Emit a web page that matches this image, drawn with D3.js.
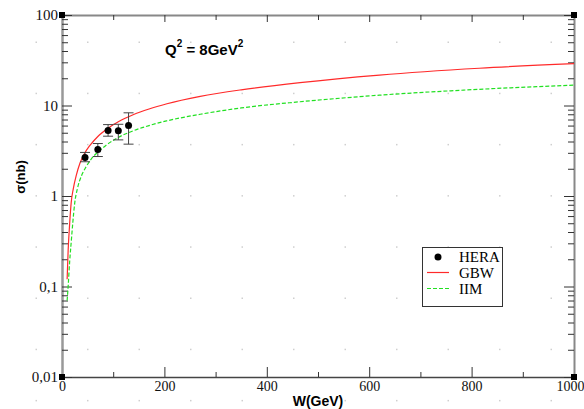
<!DOCTYPE html>
<html>
<head>
<meta charset="utf-8">
<script src="https://cdn.jsdelivr.net/npm/d3@7"></script>
<style>
  html, body { margin: 0; padding: 0; background: #fff; }
  svg { display: block; }
</style>
</head>
<body>
<div id="chart"></div>
<script>
// ---- data ----
const heraW     = [45, 70, 90, 110, 130];
const heraSigma = [2.67, 3.27, 5.3, 5.25, 6.0];
const heraHi    = [3.03, 3.8, 6.15, 6.2, 8.3];
const heraLo    = [2.39, 2.73, 4.58, 4.17, 3.74];

const gbwW     = [10, 12, 15, 18, 22, 28, 35, 44, 55, 70, 90, 110, 140, 170, 205, 270, 350, 465, 620, 815, 1000];
const gbwSigma = [0.12, 0.25, 0.5, 0.85, 1.2, 1.7, 2.3, 2.95, 3.65, 4.55, 5.6, 6.6, 7.95, 9.15, 10.45, 12.6, 14.9, 17.9, 21.7, 25.8, 29.0];

const iimW     = [10, 12, 15, 18, 21, 25, 30, 38, 47, 57, 70, 85, 107, 139, 170, 204, 270, 350, 465, 620, 815, 1000];
const iimSigma = [0.07, 0.1, 0.19, 0.31, 0.5, 0.85, 1.2, 1.67, 2.1, 2.56, 3.05, 3.6, 4.35, 5.25, 6.0, 6.75, 8.0, 9.4, 11.0, 13.0, 15.1, 16.8];

const xTicks = [0, 200, 400, 600, 800, 1000];
const xMinor = [100, 300, 500, 700, 900];
const yTicks = [0.01, 0.1, 1, 10, 100];
const yTickLabels = ["0,01", "0,1", "1", "10", "100"];
const legendLabels = ["HERA", "GBW", "IIM"];

// ---- layout ----
const W = 584, H = 409;
const x = d3.scaleLinear().domain([0, 1000]).range([62, 574]);
const y = d3.scaleLog().domain([0.01, 100]).range([377, 15]);

const svg = d3.select("#chart").append("svg")
  .attr("width", W).attr("height", H)
  .attr("viewBox", `0 0 ${W} ${H}`);

// background dot grid
const gdots = svg.append("g");
for (let i = 0; i <= 10; i++) {
  for (let j = 0; j <= 7; j++) {
    gdots.append("rect")
      .attr("x", 35.5 + 51.5 * i).attr("y", 41.5 + 51.2 * j)
      .attr("width", 1.5).attr("height", 1.5)
      .attr("fill", "#cfcfcf");
  }
}

// minor y values
const yMinor = [];
[0.01, 0.1, 1, 10].forEach(d => { for (let k = 2; k <= 9; k++) yMinor.push(d * k); });

const serif = "'Liberation Serif', 'Times New Roman', serif";
const sans = "'Liberation Sans', Arial, sans-serif";

function styleAxis(g, domainColor, domainWidth) {
  g.select(".domain").attr("stroke", domainColor).attr("stroke-width", domainWidth);
  g.selectAll(".tick line").attr("stroke", "#333").attr("stroke-width", 1);
  g.selectAll(".tick text").attr("font-family", serif).attr("font-size", 14).attr("fill", "#111");
}

// bottom axis
const gB = svg.append("g").attr("transform", `translate(0,${y(0.01)})`)
  .call(d3.axisBottom(x).tickValues(xTicks).tickSizeInner(-10).tickSizeOuter(0).tickPadding(4)
    .tickFormat(d3.format("d")));
styleAxis(gB, "#444", 1.5);
// keep the last label inside the picture
gB.selectAll(".tick text").filter(d => d === 1000).attr("text-anchor", "end").attr("x", 10);
const gBm = svg.append("g").attr("transform", `translate(0,${y(0.01)})`)
  .call(d3.axisBottom(x).tickValues(xMinor).tickSizeInner(-5).tickSizeOuter(0).tickFormat(""));
gBm.select(".domain").remove();
gBm.selectAll(".tick line").attr("stroke", "#333");

// top axis
const gT = svg.append("g").attr("transform", `translate(0,${y(100)})`)
  .call(d3.axisTop(x).tickValues(xTicks).tickSizeInner(-7).tickSizeOuter(0).tickFormat(""));
styleAxis(gT, "#888", 2);
const gTm = svg.append("g").attr("transform", `translate(0,${y(100)})`)
  .call(d3.axisTop(x).tickValues(xMinor).tickSizeInner(-5).tickSizeOuter(0).tickFormat(""));
gTm.select(".domain").remove();
gTm.selectAll(".tick line").attr("stroke", "#333");

// left axis
const gL = svg.append("g").attr("transform", `translate(${x(0)},0)`)
  .call(d3.axisLeft(y).tickValues(yTicks).tickSizeInner(-10).tickSizeOuter(0).tickPadding(4)
    .tickFormat((d, i) => yTickLabels[i]));
styleAxis(gL, "#999", 2.5);
gL.selectAll(".tick text").attr("font-size", 15);
const gLm = svg.append("g").attr("transform", `translate(${x(0)},0)`)
  .call(d3.axisLeft(y).tickValues(yMinor).tickSizeInner(-6).tickSizeOuter(0).tickFormat(""));
gLm.select(".domain").remove();
gLm.selectAll(".tick line").attr("stroke", "#333");

// right axis
const gR = svg.append("g").attr("transform", `translate(${x(1000)},0)`)
  .call(d3.axisRight(y).tickValues(yTicks).tickSizeInner(-10).tickSizeOuter(0).tickFormat(""));
styleAxis(gR, "#888", 2);
const gRm = svg.append("g").attr("transform", `translate(${x(1000)},0)`)
  .call(d3.axisRight(y).tickValues(yMinor).tickSizeInner(-6).tickSizeOuter(0).tickFormat(""));
gRm.select(".domain").remove();
gRm.selectAll(".tick line").attr("stroke", "#333");

// corner squares
[[0, 0.01], [0, 100], [1000, 0.01], [1000, 100]].forEach(([cx, cy]) => {
  svg.append("rect").attr("x", x(cx) - 3).attr("y", y(cy) - 3)
    .attr("width", 6).attr("height", 6).attr("fill", "#000");
});

// curves
const line = d3.line().x(d => x(d[0])).y(d => y(d[1])).curve(d3.curveMonotoneX);
svg.append("path")
  .datum(gbwW.map((w, i) => [w, gbwSigma[i]]))
  .attr("d", line).attr("fill", "none").attr("stroke", "#ff2a2a").attr("stroke-width", 1.2);
svg.append("path")
  .datum(iimW.map((w, i) => [w, iimSigma[i]]))
  .attr("d", line).attr("fill", "none").attr("stroke", "#22e022").attr("stroke-width", 1.2)
  .attr("stroke-dasharray", "4,2");

// HERA points with error bars
const pts = heraW.map((w, i) => ({ w, s: heraSigma[i], hi: heraHi[i], lo: heraLo[i] }));
const gP = svg.append("g");
pts.forEach(p => {
  const cx = x(p.w);
  gP.append("line").attr("x1", cx).attr("x2", cx).attr("y1", y(p.hi)).attr("y2", y(p.lo))
    .attr("stroke", "#444").attr("stroke-width", 1);
  [p.hi, p.lo].forEach(v => {
    gP.append("line").attr("x1", cx - 5).attr("x2", cx + 5).attr("y1", y(v)).attr("y2", y(v))
      .attr("stroke", "#444").attr("stroke-width", 1);
  });
  gP.append("circle").attr("cx", cx).attr("cy", y(p.s)).attr("r", 3.5).attr("fill", "#000");
});

// annotation Q^2 = 8GeV^2
const q = svg.append("text").attr("x", 165).attr("y", 55)
  .attr("font-family", sans).attr("font-weight", "bold").attr("font-size", 15).attr("fill", "#000");
q.append("tspan").text("Q");
q.append("tspan").attr("dy", -8).attr("font-size", 10).text("2");
q.append("tspan").attr("dy", 8).text(" = 8GeV");
q.append("tspan").attr("dy", -8).attr("font-size", 10).text("2");

// axis titles
svg.append("text").attr("x", (x(0) + x(1000)) / 2).attr("y", 406)
  .attr("text-anchor", "middle").attr("font-family", sans).attr("font-weight", "bold")
  .attr("font-size", 14).attr("fill", "#000").text("W(GeV)");
svg.append("text").attr("transform", "translate(25,177) rotate(-90)")
  .attr("text-anchor", "middle").attr("font-family", sans).attr("font-weight", "bold")
  .attr("font-size", 13).attr("fill", "#000").text("σ(nb)");

// legend
const lg = svg.append("g");
lg.append("rect").attr("x", 422.5).attr("y", 247.5).attr("width", 80).attr("height", 59)
  .attr("fill", "#fff").attr("stroke", "#333").attr("stroke-width", 1);
const rowY = [257, 272.5, 288.5];
lg.append("circle").attr("cx", 438).attr("cy", rowY[0]).attr("r", 3.5).attr("fill", "#000");
lg.append("line").attr("x1", 427).attr("x2", 449).attr("y1", rowY[1]).attr("y2", rowY[1])
  .attr("stroke", "#ff2a2a").attr("stroke-width", 1.2);
lg.append("line").attr("x1", 427).attr("x2", 449).attr("y1", rowY[2]).attr("y2", rowY[2])
  .attr("stroke", "#22e022").attr("stroke-width", 1.2).attr("stroke-dasharray", "4,2");
legendLabels.forEach((t, i) => {
  lg.append("text").attr("x", 459).attr("y", rowY[i] + 5)
    .attr("font-family", serif).attr("font-size", 15).attr("fill", "#000").text(t);
});
</script>
</body>
</html>
